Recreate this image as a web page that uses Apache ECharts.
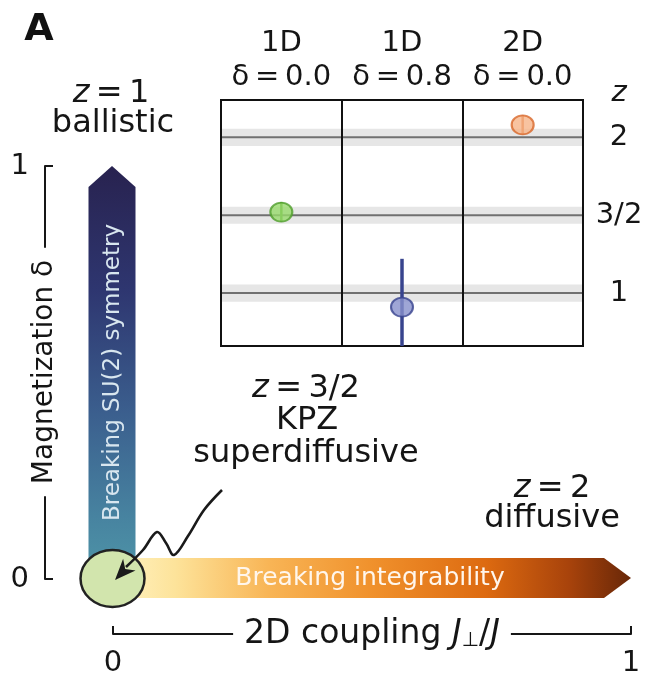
<!DOCTYPE html>
<html><head><meta charset="utf-8">
<script src="https://cdn.jsdelivr.net/npm/echarts@6/dist/echarts.min.js"></script>
<style>html,body{margin:0;padding:0;background:#fff}#c{width:647px;height:673px}</style>
</head><body><div id="c"></div>
<script>
const FONT = '"DejaVu Sans", sans-serif';
// ---- inset panel data ----
const panelDims = ['1D', '1D', '2D'];
const panelDeltas = ['0.0', '0.8', '0.0'];
const zTickValues = [1, 1.5, 2];
const zTickLabels = ['1', '3/2', '2'];
const zMeasured = [1.52, 0.91, 2.08];
const zErrLow = [1.46, 0.60, 2.02];
const zErrHigh = [1.585, 1.22, 2.14];
const zAxisRange = [0.66, 2.24];
// ---- schematic data ----
const couplingTicks = [0, 1];
const magnetizationTicks = [0, 1];
const integrabilityArrow = [0, 1];   // along J⊥/J at δ = 0
const su2Arrow = [0, 1];             // along δ at J⊥/J = 0
const kpzPoint = [0, 0];

const pointFill = ['#97d96c', '#8790cc', '#f6b488'];
const pointStroke = ['#4f9d2c', '#38448e', '#d8682a'];

const categories = panelDims.map((d, i) => d + '\n\u03b4\u2009=\u2009' + panelDeltas[i]);

const chart = echarts.init(document.getElementById('c'), null, {renderer: 'canvas'});

function txt(x, y, text, size, extra, styleExtra) {
  const el = {
    type: 'text', x: x, y: y, z: 100,
    style: Object.assign({
      text: text, fill: '#151515', fontSize: size, fontFamily: FONT,
      font: size + 'px ' + FONT,
      align: 'center', verticalAlign: 'middle', textAlign: 'center', textVerticalAlign: 'middle',
      rich: {
        i: {fontStyle: 'italic', fontSize: size, fontFamily: FONT, fill: '#151515'},
        s: {fontSize: Math.round(size * 0.6), fontFamily: FONT, fill: '#151515', verticalAlign: 'bottom', lineHeight: Math.round(size * 0.6)}
      }
    }, styleExtra || {})
  };
  return Object.assign(el, extra || {});
}

// arrowhead for squiggle
const tip = [115, 580], from = [143, 550];
const dx = tip[0] - from[0], dy = tip[1] - from[1], dl = Math.hypot(dx, dy);
const ux = dx / dl, uy = dy / dl, nx = -uy, ny = ux;
const hl = 21, hw = 8.5;
const base = [tip[0] - ux * hl, tip[1] - uy * hl];
const headPts = [tip, [base[0] + nx * hw, base[1] + ny * hw], [tip[0] - ux * 15, tip[1] - uy * 15], [base[0] - nx * hw, base[1] - ny * hw]];

const option = {
  animation: false,
  backgroundColor: '#fff',
  textStyle: {fontFamily: FONT},
  grid: [
    {left: 221, right: 64, top: 100, bottom: 327, show: true, borderColor: '#111', borderWidth: 2, backgroundColor: 'transparent', outerBoundsMode: 'none'},
    {left: 113, right: 16, top: 166, bottom: 94, show: false, outerBoundsMode: 'none'}
  ],
  xAxis: [
    {
      type: 'category', gridIndex: 0, position: 'top', data: categories,
      axisLine: {show: true, onZero: false, lineStyle: {color: '#111', width: 2}},
      axisTick: {show: false},
      axisLabel: {margin: 6, fontSize: 29, lineHeight: 34, color: '#151515', fontFamily: FONT, interval: 0},
      splitLine: {show: true, lineStyle: {color: '#111', width: 2}}
    },
    {
      type: 'value', gridIndex: 1, min: couplingTicks[0], max: couplingTicks[1], interval: 1,
      position: 'bottom', offset: 55,
      axisLine: {show: true, onZero: false, lineStyle: {color: '#161616', width: 2}},
      axisTick: {show: true, inside: true, length: 8, lineStyle: {color: '#161616', width: 2}},
      axisLabel: {margin: 15, fontSize: 29, color: '#151515', fontFamily: FONT},
      splitLine: {show: false}
    }
  ],
  yAxis: [
    {
      type: 'value', gridIndex: 0, position: 'right', min: zAxisRange[0], max: zAxisRange[1],
      axisLine: {show: false, onZero: false}, axisTick: {show: false}, splitLine: {show: false},
      axisLabel: {
        customValues: zTickValues, margin: 36, align: 'center', fontSize: 29, color: '#151515', fontFamily: FONT,
        formatter: v => zTickLabels[zTickValues.indexOf(v)]
      },
      name: 'z', nameLocation: 'end', nameGap: 7, nameMoveOverlap: false,
      nameTextStyle: {fontStyle: 'italic', fontSize: 29, color: '#151515', fontFamily: FONT, align: 'center', verticalAlign: 'middle', padding: [0, 0, 0, 72]}
    },
    {
      type: 'value', gridIndex: 1, min: magnetizationTicks[0], max: magnetizationTicks[1], interval: 1,
      position: 'left', offset: 68,
      axisLine: {show: true, onZero: false, lineStyle: {color: '#161616', width: 2}},
      axisTick: {show: true, inside: true, length: 8, lineStyle: {color: '#161616', width: 2}},
      axisLabel: {margin: 16, fontSize: 29, color: '#151515', fontFamily: FONT},
      splitLine: {show: false}
    }
  ],
  series: [
    // reference bands for z = 1, 3/2, 2
    {
      type: 'custom', xAxisIndex: 0, yAxisIndex: 0, z: -1, silent: true,
      data: zTickValues.map(v => [0, v]), encode: {x: 0, y: 1},
      renderItem(params, api) {
        const cs = params.coordSys;
        const z = api.value(1);
        const yT = api.coord([0, z + 0.055])[1], yB = api.coord([0, z - 0.055])[1], yM = api.coord([0, z])[1];
        return {type: 'group', children: [
          {type: 'rect', shape: {x: cs.x, y: yT, width: cs.width, height: yB - yT}, style: {fill: '#e6e6e6'}},
          {type: 'line', shape: {x1: cs.x, y1: yM, x2: cs.x + cs.width, y2: yM}, style: {stroke: '#707070', lineWidth: 2}}
        ]};
      }
    },
    // error bars
    {
      type: 'custom', xAxisIndex: 0, yAxisIndex: 0, silent: true,
      data: zMeasured.map((v, i) => [i, zErrLow[i], zErrHigh[i]]), encode: {x: 0, y: [1, 2]},
      renderItem(params, api) {
        const cs = params.coordSys;
        const i = api.value(0);
        const lo = api.coord([i, api.value(1)]), hi = api.coord([i, api.value(2)]);
        const clamp = y => Math.max(cs.y, Math.min(cs.y + cs.height, y));
        return {type: 'line', shape: {x1: lo[0], y1: clamp(lo[1]), x2: hi[0], y2: clamp(hi[1])},
          style: {stroke: pointStroke[i], lineWidth: i === 1 ? 3.5 : 2.5}};
      }
    },
    // measured dynamical exponent
    {
      type: 'scatter', xAxisIndex: 0, yAxisIndex: 0, symbol: 'circle', symbolSize: [22, 19], silent: true,
      data: zMeasured.map((v, i) => ({value: [i, v], itemStyle: {color: pointFill[i], borderColor: pointStroke[i], borderWidth: 2}}))
    },
    // breaking integrability arrow
    {
      type: 'custom', xAxisIndex: 1, yAxisIndex: 1, silent: true,
      data: [[integrabilityArrow[0], integrabilityArrow[1], kpzPoint[1]]],
      renderItem(params, api) {
        const a = api.coord([api.value(0), api.value(2)]);
        const b = api.coord([api.value(1), api.value(2)]);
        const h = 20, head = 27, cy = a[1] - 1;
        const pts = [[a[0], cy - h], [b[0] - head, cy - h], [b[0], cy], [b[0] - head, cy + h], [a[0], cy + h]];
        return {type: 'group', children: [
          {type: 'polygon', shape: {points: pts}, style: {fill: new echarts.graphic.LinearGradient(0, 0, 1, 0, [
            {offset: 0, color: '#fff3c4'}, {offset: 0.12, color: '#fde39a'}, {offset: 0.3, color: '#f8b556'},
            {offset: 0.5, color: '#f0912c'}, {offset: 0.72, color: '#dd6a10'}, {offset: 0.88, color: '#a8430b'},
            {offset: 1, color: '#682708'}])}},
          {type: 'text', x: (a[0] + b[0]) / 2 - 2, y: cy, style: {text: 'Breaking integrability', fill: '#fff6ec',
            font: '25px ' + FONT, fontSize: 25, fontFamily: FONT, align: 'center', verticalAlign: 'middle', textAlign: 'center', textVerticalAlign: 'middle'}}
        ]};
      }
    },
    // breaking SU(2) arrow
    {
      type: 'custom', xAxisIndex: 1, yAxisIndex: 1, silent: true,
      data: [[kpzPoint[0], su2Arrow[0], su2Arrow[1]]],
      renderItem(params, api) {
        const a = api.coord([api.value(0), api.value(1)]);
        const b = api.coord([api.value(0), api.value(2)]);
        const w = 23.5, head = 21, cx = a[0] - 1;
        const pts = [[cx - w, a[1]], [cx - w, b[1] + head], [cx, b[1]], [cx + w, b[1] + head], [cx + w, a[1]]];
        return {type: 'group', children: [
          {type: 'polygon', shape: {points: pts}, style: {fill: new echarts.graphic.LinearGradient(0, 0, 0, 1, [
            {offset: 0, color: '#28224f'}, {offset: 0.3, color: '#2e3670'}, {offset: 0.6, color: '#3b5f8e'},
            {offset: 0.85, color: '#4783a0'}, {offset: 1, color: '#4f96a8'}])}},
          {type: 'text', x: cx + 1, y: (a[1] + b[1]) / 2, rotation: Math.PI / 2, style: {text: 'Breaking SU(2) symmetry', fill: '#d8e6ef',
            font: '23px ' + FONT, fontSize: 23, fontFamily: FONT, align: 'center', verticalAlign: 'middle', textAlign: 'center', textVerticalAlign: 'middle'}}
        ]};
      }
    },
    // KPZ point at the origin
    {
      type: 'custom', xAxisIndex: 1, yAxisIndex: 1, silent: true,
      data: [kpzPoint],
      renderItem(params, api) {
        const p = api.coord([api.value(0), api.value(1)]);
        return {type: 'ellipse', shape: {cx: p[0] - 0.5, cy: p[1] - 0.5, rx: 32, ry: 28.5},
          style: {fill: '#d2e5ad', stroke: '#222', lineWidth: 2.5}};
      }
    }
  ],
  graphic: [
    txt(39, 30, 'A', 38, null, {fill: '#111', font: 'bold 38px ' + FONT, fontWeight: 'bold'}),
    txt(111, 94, '{i|z}\u2009=\u20091', 32),
    txt(113, 124, 'ballistic', 32),
    txt(306, 389, '{i|z}\u2009=\u20093/2', 32),
    txt(307, 421, 'KPZ', 32),
    txt(306, 454, 'superdiffusive', 32),
    txt(552, 489, '{i|z}\u2009=\u20092', 32),
    txt(552, 519, 'diffusive', 32),
    // axis titles with white gap over the axis lines
    txt(45, 372, 'Magnetization \u03b4', 28, {rotation: Math.PI / 2}, {backgroundColor: '#fff', padding: [0, 12]}),
    txt(372, 634, '2D coupling {i|J}{s|\u22a5}/{i|J}', 33, null, {backgroundColor: '#fff', padding: [0, 11]}),
    {type: 'polyline', z: 100, shape: {points: [[222, 490], [204, 510], [188, 536], [174, 555], [166, 543], [157, 532], [143, 550], [126, 567]], smooth: 0.35},
      style: {stroke: '#1a1a1a', lineWidth: 2.6, fill: null}},
    {type: 'polygon', z: 101, shape: {points: headPts}, style: {fill: '#1a1a1a'}}
  ]
};
chart.setOption(option);
</script></body></html>
